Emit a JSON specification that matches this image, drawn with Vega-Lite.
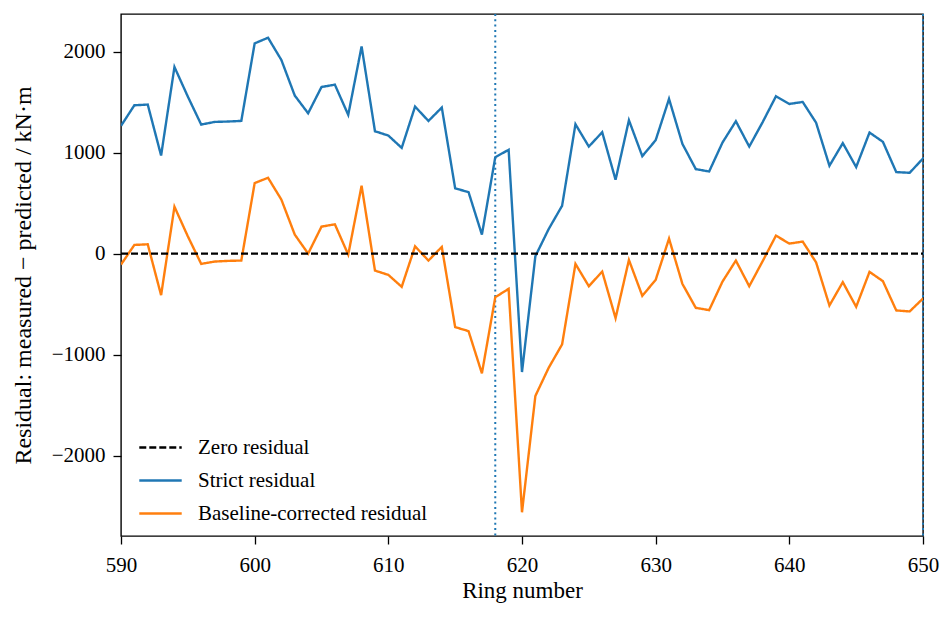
{
  "$schema": "https://vega.github.io/schema/vega-lite/v6.json",
  "width": 802,
  "height": 522,
  "autosize": {"type": "none"},
  "padding": {"left": 121, "top": 14, "right": 28, "bottom": 83},
  "background": "white",
  "config": {
    "font": "Liberation Serif",
    "view": {"stroke": "black", "strokeWidth": 1.4},
    "axis": {
      "domain": false,
      "grid": false,
      "tickColor": "black",
      "tickSize": 8,
      "tickWidth": 1.3,
      "labelFont": "Liberation Serif",
      "labelFontSize": 21,
      "labelColor": "black",
      "labelFlush": false,
      "labelOverlap": false,
      "titleFont": "Liberation Serif",
      "titleFontSize": 23,
      "titleFontWeight": "normal",
      "titleColor": "black"
    },
    "legend": {
      "labelFont": "Liberation Serif",
      "labelFontSize": 21,
      "labelColor": "black",
      "labelLimit": 500,
      "symbolType": "stroke",
      "symbolSize": 1800,
      "symbolStrokeWidth": 2.4,
      "labelOffset": 15,
      "rowPadding": 0
    }
  },
  "datasets": {
    "residuals": [
      {"ring": 590, "series": "Strict residual", "value": 1265},
      {"ring": 591, "series": "Strict residual", "value": 1469},
      {"ring": 592, "series": "Strict residual", "value": 1476},
      {"ring": 593, "series": "Strict residual", "value": 971},
      {"ring": 594, "series": "Strict residual", "value": 1848},
      {"ring": 595, "series": "Strict residual", "value": 1555},
      {"ring": 596, "series": "Strict residual", "value": 1278},
      {"ring": 597, "series": "Strict residual", "value": 1304},
      {"ring": 598, "series": "Strict residual", "value": 1308},
      {"ring": 599, "series": "Strict residual", "value": 1314},
      {"ring": 600, "series": "Strict residual", "value": 2082},
      {"ring": 601, "series": "Strict residual", "value": 2138},
      {"ring": 602, "series": "Strict residual", "value": 1917},
      {"ring": 603, "series": "Strict residual", "value": 1565},
      {"ring": 604, "series": "Strict residual", "value": 1390},
      {"ring": 605, "series": "Strict residual", "value": 1650},
      {"ring": 606, "series": "Strict residual", "value": 1673},
      {"ring": 607, "series": "Strict residual", "value": 1374},
      {"ring": 608, "series": "Strict residual", "value": 2052},
      {"ring": 609, "series": "Strict residual", "value": 1212},
      {"ring": 610, "series": "Strict residual", "value": 1169},
      {"ring": 611, "series": "Strict residual", "value": 1047},
      {"ring": 612, "series": "Strict residual", "value": 1456},
      {"ring": 613, "series": "Strict residual", "value": 1314},
      {"ring": 614, "series": "Strict residual", "value": 1446},
      {"ring": 615, "series": "Strict residual", "value": 646},
      {"ring": 616, "series": "Strict residual", "value": 609},
      {"ring": 617, "series": "Strict residual", "value": 188},
      {"ring": 618, "series": "Strict residual", "value": 955},
      {"ring": 619, "series": "Strict residual", "value": 1028},
      {"ring": 620, "series": "Strict residual", "value": -1173},
      {"ring": 621, "series": "Strict residual", "value": -26},
      {"ring": 622, "series": "Strict residual", "value": 244},
      {"ring": 623, "series": "Strict residual", "value": 474},
      {"ring": 624, "series": "Strict residual", "value": 1281},
      {"ring": 625, "series": "Strict residual", "value": 1060},
      {"ring": 626, "series": "Strict residual", "value": 1202},
      {"ring": 627, "series": "Strict residual", "value": 731},
      {"ring": 628, "series": "Strict residual", "value": 1321},
      {"ring": 629, "series": "Strict residual", "value": 965},
      {"ring": 630, "series": "Strict residual", "value": 1123},
      {"ring": 631, "series": "Strict residual", "value": 1532},
      {"ring": 632, "series": "Strict residual", "value": 1087},
      {"ring": 633, "series": "Strict residual", "value": 837},
      {"ring": 634, "series": "Strict residual", "value": 813},
      {"ring": 635, "series": "Strict residual", "value": 1100},
      {"ring": 636, "series": "Strict residual", "value": 1311},
      {"ring": 637, "series": "Strict residual", "value": 1060},
      {"ring": 638, "series": "Strict residual", "value": 1301},
      {"ring": 639, "series": "Strict residual", "value": 1558},
      {"ring": 640, "series": "Strict residual", "value": 1482},
      {"ring": 641, "series": "Strict residual", "value": 1502},
      {"ring": 642, "series": "Strict residual", "value": 1297},
      {"ring": 643, "series": "Strict residual", "value": 870},
      {"ring": 644, "series": "Strict residual", "value": 1094},
      {"ring": 645, "series": "Strict residual", "value": 857},
      {"ring": 646, "series": "Strict residual", "value": 1199},
      {"ring": 647, "series": "Strict residual", "value": 1107},
      {"ring": 648, "series": "Strict residual", "value": 807},
      {"ring": 649, "series": "Strict residual", "value": 800},
      {"ring": 650, "series": "Strict residual", "value": 942},
      {"ring": 590, "series": "Baseline-corrected residual", "value": -109},
      {"ring": 591, "series": "Baseline-corrected residual", "value": 86},
      {"ring": 592, "series": "Baseline-corrected residual", "value": 92},
      {"ring": 593, "series": "Baseline-corrected residual", "value": -412},
      {"ring": 594, "series": "Baseline-corrected residual", "value": 464},
      {"ring": 595, "series": "Baseline-corrected residual", "value": 171},
      {"ring": 596, "series": "Baseline-corrected residual", "value": -102},
      {"ring": 597, "series": "Baseline-corrected residual", "value": -79},
      {"ring": 598, "series": "Baseline-corrected residual", "value": -72},
      {"ring": 599, "series": "Baseline-corrected residual", "value": -69},
      {"ring": 600, "series": "Baseline-corrected residual", "value": 698},
      {"ring": 601, "series": "Baseline-corrected residual", "value": 751},
      {"ring": 602, "series": "Baseline-corrected residual", "value": 534},
      {"ring": 603, "series": "Baseline-corrected residual", "value": 188},
      {"ring": 604, "series": "Baseline-corrected residual", "value": 0},
      {"ring": 605, "series": "Baseline-corrected residual", "value": 267},
      {"ring": 606, "series": "Baseline-corrected residual", "value": 290},
      {"ring": 607, "series": "Baseline-corrected residual", "value": -10},
      {"ring": 608, "series": "Baseline-corrected residual", "value": 672},
      {"ring": 609, "series": "Baseline-corrected residual", "value": -168},
      {"ring": 610, "series": "Baseline-corrected residual", "value": -211},
      {"ring": 611, "series": "Baseline-corrected residual", "value": -329},
      {"ring": 612, "series": "Baseline-corrected residual", "value": 72},
      {"ring": 613, "series": "Baseline-corrected residual", "value": -69},
      {"ring": 614, "series": "Baseline-corrected residual", "value": 66},
      {"ring": 615, "series": "Baseline-corrected residual", "value": -728},
      {"ring": 616, "series": "Baseline-corrected residual", "value": -768},
      {"ring": 617, "series": "Baseline-corrected residual", "value": -1186},
      {"ring": 618, "series": "Baseline-corrected residual", "value": -432},
      {"ring": 619, "series": "Baseline-corrected residual", "value": -349},
      {"ring": 620, "series": "Baseline-corrected residual", "value": -2562},
      {"ring": 621, "series": "Baseline-corrected residual", "value": -1410},
      {"ring": 622, "series": "Baseline-corrected residual", "value": -1130},
      {"ring": 623, "series": "Baseline-corrected residual", "value": -899},
      {"ring": 624, "series": "Baseline-corrected residual", "value": -102},
      {"ring": 625, "series": "Baseline-corrected residual", "value": -323},
      {"ring": 626, "series": "Baseline-corrected residual", "value": -178},
      {"ring": 627, "series": "Baseline-corrected residual", "value": -639},
      {"ring": 628, "series": "Baseline-corrected residual", "value": -63},
      {"ring": 629, "series": "Baseline-corrected residual", "value": -418},
      {"ring": 630, "series": "Baseline-corrected residual", "value": -260},
      {"ring": 631, "series": "Baseline-corrected residual", "value": 148},
      {"ring": 632, "series": "Baseline-corrected residual", "value": -300},
      {"ring": 633, "series": "Baseline-corrected residual", "value": -537},
      {"ring": 634, "series": "Baseline-corrected residual", "value": -560},
      {"ring": 635, "series": "Baseline-corrected residual", "value": -277},
      {"ring": 636, "series": "Baseline-corrected residual", "value": -69},
      {"ring": 637, "series": "Baseline-corrected residual", "value": -323},
      {"ring": 638, "series": "Baseline-corrected residual", "value": -76},
      {"ring": 639, "series": "Baseline-corrected residual", "value": 178},
      {"ring": 640, "series": "Baseline-corrected residual", "value": 99},
      {"ring": 641, "series": "Baseline-corrected residual", "value": 119},
      {"ring": 642, "series": "Baseline-corrected residual", "value": -86},
      {"ring": 643, "series": "Baseline-corrected residual", "value": -514},
      {"ring": 644, "series": "Baseline-corrected residual", "value": -283},
      {"ring": 645, "series": "Baseline-corrected residual", "value": -527},
      {"ring": 646, "series": "Baseline-corrected residual", "value": -181},
      {"ring": 647, "series": "Baseline-corrected residual", "value": -273},
      {"ring": 648, "series": "Baseline-corrected residual", "value": -563},
      {"ring": 649, "series": "Baseline-corrected residual", "value": -573},
      {"ring": 650, "series": "Baseline-corrected residual", "value": -445},
      {"ring": 590, "series": "Zero residual", "value": 0},
      {"ring": 650, "series": "Zero residual", "value": 0}
    ],
    "markers": [
      {"ring": 618},
      {"ring": 650}
    ]
  },
  "layer": [
    {
      "data": {"name": "markers"},
      "mark": {"type": "rule", "color": "#1f77b4", "strokeWidth": 2, "strokeDash": [2, 3.3]},
      "encoding": {
        "x": {"field": "ring", "type": "quantitative"}
      }
    },
    {
      "data": {"name": "residuals"},
      "mark": {"type": "line", "strokeWidth": 2.4, "clip": true},
      "encoding": {
        "x": {
          "field": "ring",
          "type": "quantitative",
          "title": "Ring number",
          "scale": {"domain": [590, 650], "nice": false, "zero": false},
          "axis": {"values": [590, 600, 610, 620, 630, 640, 650], "format": "d", "labelPadding": 10, "titlePadding": 4}
        },
        "y": {
          "field": "value",
          "type": "quantitative",
          "title": "Residual: measured − predicted / kN·m",
          "scale": {"domain": [-2797, 2373], "nice": false, "zero": false},
          "axis": {"values": [-2000, -1000, 0, 1000, 2000], "format": "d", "labelPadding": 8, "titlePadding": 16, "titleFontSize": 24}
        },
        "color": {
          "field": "series",
          "type": "nominal",
          "title": null,
          "scale": {
            "domain": ["Zero residual", "Strict residual", "Baseline-corrected residual"],
            "range": ["black", "#1f77b4", "#ff7f0e"]
          },
          "legend": {"orient": "none", "legendX": 17, "legendY": 411}
        },
        "strokeDash": {
          "field": "series",
          "type": "nominal",
          "title": null,
          "scale": {
            "domain": ["Zero residual", "Strict residual", "Baseline-corrected residual"],
            "range": [[7, 3], [1, 0], [1, 0]]
          },
          "legend": {"orient": "none", "legendX": 17, "legendY": 411}
        }
      }
    }
  ]
}
